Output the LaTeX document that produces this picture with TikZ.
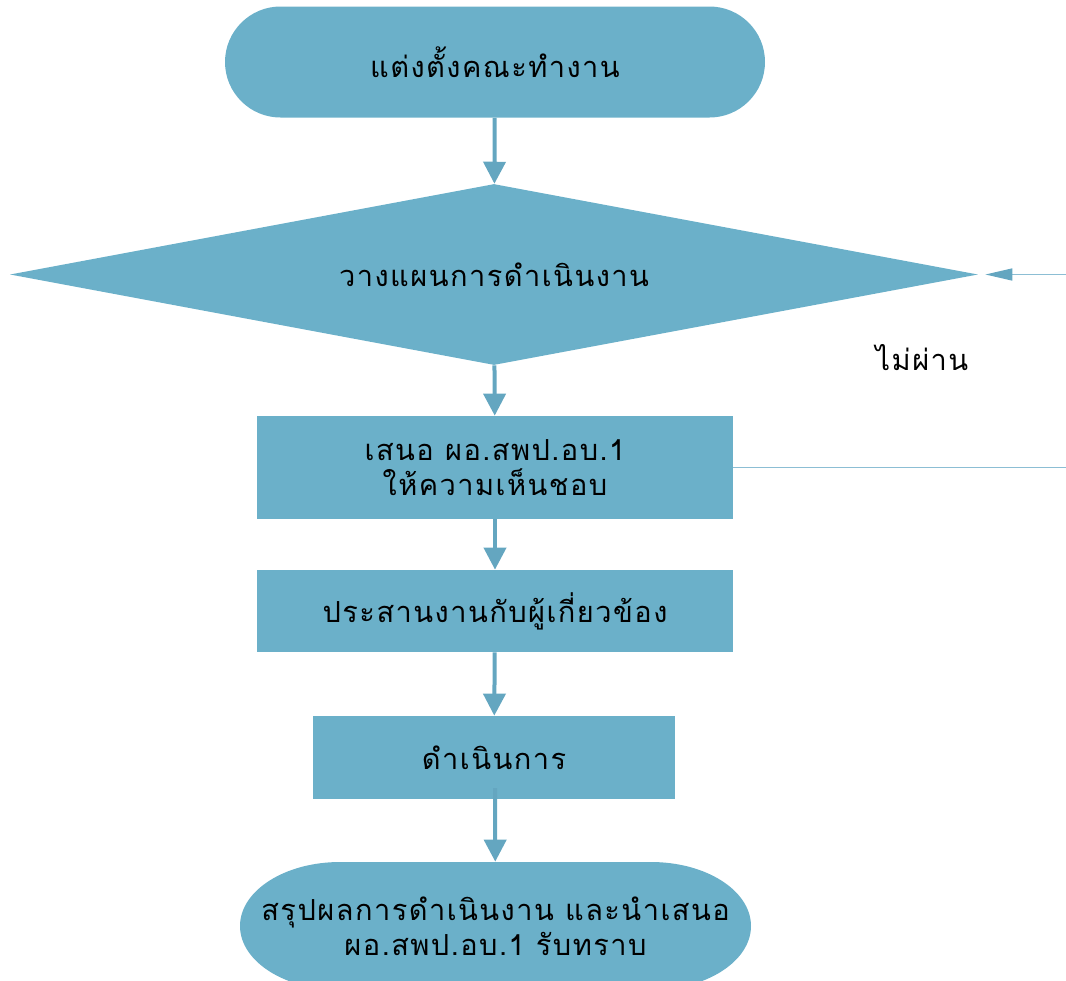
\documentclass[tikz,border=0pt]{standalone}
\usepackage{fontspec}
\newfontfamily\thaifont[Script=Thai,LetterSpace=5]{Loma}
\usetikzlibrary{shapes.geometric,arrows.meta}
\definecolor{boxblue}{RGB}{107,176,201}
\definecolor{arrowblue}{RGB}{100,166,192}
\definecolor{lineblue}{RGB}{140,190,212}
\begin{document}
\begin{tikzpicture}[
  font=\thaifont\fontsize{16.5}{20}\selectfont,
  stepbox/.style={rectangle, fill=boxblue, align=center, inner sep=0pt},
  termbox/.style={rectangle, fill=boxblue, align=center, inner sep=0pt},
  decbox/.style={diamond, fill=boxblue, aspect=5.35, inner sep=0pt},
  flow/.style={draw=arrowblue, line width=0.08cm, -{Triangle[length=0.44cm,width=0.44cm]}},
  back/.style={draw=lineblue, line width=0.03cm}
]
\useasboundingbox (0,0) rectangle (21.32,-19.62);
\clip (0,0) rectangle (21.32,-19.62);

\fill[boxblue] (6.8,-17.24) -- (13.02,-17.24)
  arc[start angle=90, end angle=-90, x radius=2cm, y radius=1.28cm]
  -- (6.8,-19.8)
  arc[start angle=270, end angle=90, x radius=2cm, y radius=1.28cm] -- cycle;

\node[termbox, minimum width=10.8cm, minimum height=2.22cm, rounded corners=1.11cm] (team) at (9.9,-1.24) {แต่งตั้งคณะทำงาน};
\node[decbox, minimum width=19.36cm, minimum height=3.62cm] (plan) at (9.88,-5.49) {วางแผนการดำเนินงาน};
\node[stepbox, minimum width=9.52cm, minimum height=2.06cm] (prop) at (9.9,-9.35) {เสนอ ผอ.สพป.อบ.1\\ให้ความเห็นชอบ};
\node[stepbox, minimum width=9.52cm, minimum height=1.64cm] (coop) at (9.9,-12.22) {ประสานงานกับผู้เกี่ยวข้อง};
\node[stepbox, minimum width=7.24cm, minimum height=1.66cm] (act) at (9.88,-15.15) {ดำเนินการ};
\node[termbox, fill=none, minimum width=10.22cm, minimum height=2.56cm] (sum) at (9.91,-18.52) {สรุปผลการดำเนินงาน และนำเสนอ\\ผอ.สพป.อบ.1 รับทราบ};

\coordinate (actin) at (9.9,-15.76);
\coordinate (fbtop) at (21.32,-5.49);
\coordinate (fbbot) at (21.32,-9.35);

\draw[flow] (team) -- (plan);
\draw[flow] (plan) -- (prop);
\draw[flow] (prop) -- (coop);
\draw[flow] (coop) -- (act);
\draw[flow] (actin) -- (sum);

\draw[back] (prop.east) -- (fbbot);
\draw[back, -{Triangle[length=0.54cm,width=0.24cm,color=arrowblue]}, shorten >=0.14cm] (fbtop) -- (plan.east);
\node (fail) at (18.44,-7.16) {ไม่ผ่าน};
\end{tikzpicture}
\end{document}
